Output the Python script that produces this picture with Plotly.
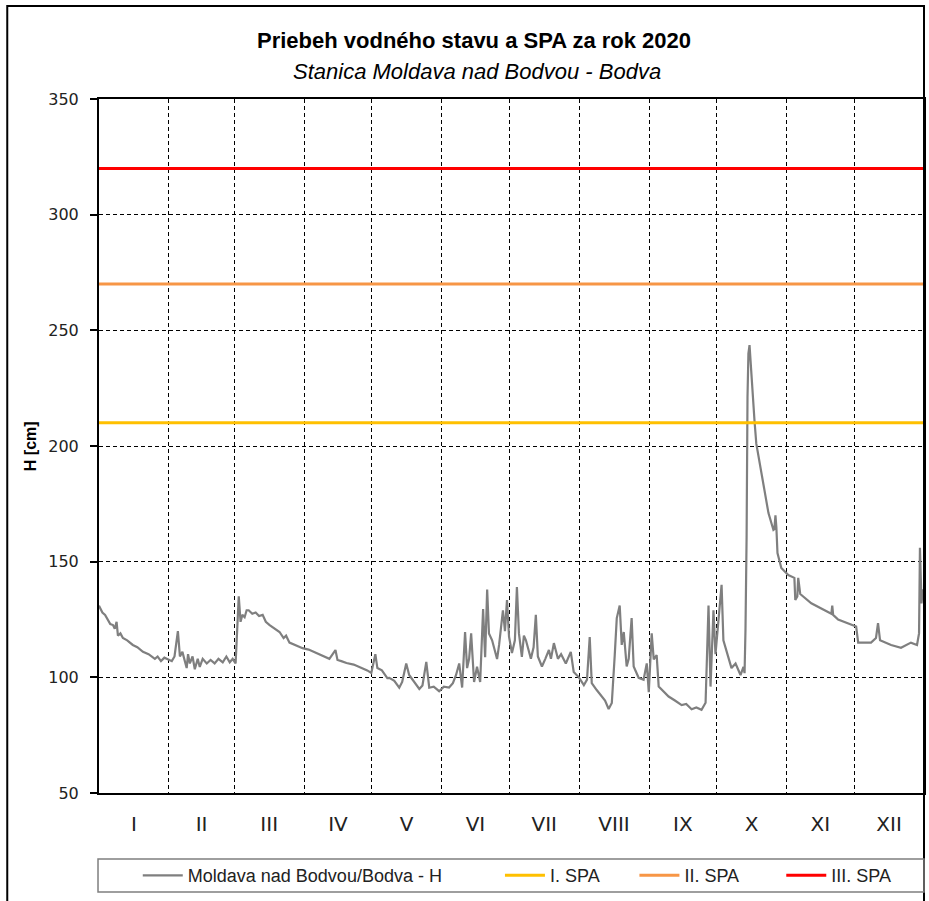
import pandas as pd
import plotly.graph_objects as go

# Water level series: day of year 2020 and level in cm (one line per month)
h_day = [0, 1.5, 2.7, 4, 5, 6.2, 7.0, 7.8, 8.4, 9.5, 10.6, 12.5, 15.0, 17, 19.5, 22, 24.8, 26, 27.5, 29, 30.1,
         32.3, 33.5, 35.0, 35.9, 37, 38.9, 39.5, 40.3, 41.5, 42.5, 43.8, 44.7, 46, 47.8, 49.5, 51.3, 53, 54.9, 56.5, 58.0, 59.3, 60.6,
         62.0, 62.8, 63.6, 64.6, 65.5, 66.4, 68, 69.5, 71, 72.6, 74, 75.7, 78, 80.1, 81.9, 83, 84.5, 87, 90.3,
         93, 96.5, 99, 102.2, 104.9, 105.8, 107.5, 109.8, 113, 116.8, 119, 120.8,
         122.6, 123.5, 125.5, 127.9, 128.8, 131, 133.2, 134.5, 136.3, 137.6, 140, 142.1, 143.5, 145.2, 146.5, 148.5, 150.9,
         153, 155.3, 157, 158.4, 159.8, 161.1, 162.4, 163.3, 164.2, 165.1, 166.4, 167.7, 169.1, 170.4, 171.3, 172.2, 173.0,
         174.4, 175.5, 176.6, 177.5, 178.4, 179.2, 180.1, 181.0, 181.9,
         183.2, 184.5, 185.4, 186.3, 187.6, 188.5, 189.4, 190.5, 191.6, 192.8, 193.8, 194.7, 196.5, 198, 199.6, 200.5, 201.8,
         203.6, 205, 207.1, 209.3, 210.6, 212.9,
         215.1, 216.5, 217.7, 218.6, 220.8, 223.0, 224.5, 226.1, 227.5, 228.8, 229.7, 231.0, 231.9, 232.8, 234.1, 235, 236.3,
         237.2, 239.4, 241.6, 243.0, 243.9,
         245.2, 246.1, 247.4, 248.3, 250.5, 252.7, 255.5, 258.5, 260.5, 262.9, 265, 267.3, 269.1, 270.4, 271.3, 272.6, 273.5,
         274.8, 276.2, 277.0, 279.3, 280.6, 282.4, 284.6, 285.9, 286.4, 286.8, 287.3, 287.7, 288.1, 288.6, 289.0, 289.9, 290.8,
         291.6, 293.4, 294.7, 297.0, 299.2, 299.6, 300.1, 300.5, 301.0, 302.7, 305.8,
         308.5, 308.9, 309.8, 310.2, 311.1, 316.0, 322.2, 324.9, 325.3, 325.7, 327.9, 334.6,
         335.9, 336.8, 339.9, 342.5, 344.7, 345.6, 346.5, 351.4, 355.8, 360.2, 362.9, 363.8, 364.2, 364.9, 365.5, 366.0]
h_cm = [131, 128, 127, 125, 123, 122.6, 121, 124, 118, 119, 117, 116, 114, 113, 111, 110, 108, 109, 107, 108.5, 108,
        107, 109, 120, 109, 111, 104, 110, 106, 109, 103.5, 108, 104.5, 108, 106, 107.5, 106, 108, 106.5, 109, 106.5, 108, 106,
        135, 124, 127, 126, 129, 129, 127.5, 128, 126.5, 127, 124, 122.6, 121, 119.6, 117, 118, 115, 114, 112.6,
        112, 110.5, 109.5, 108, 111.8, 107.5, 107, 106.2, 105.5, 104, 103, 101.9,
        110, 104, 103, 99.7, 99.8, 98.5, 95.5, 98, 106, 101, 98, 95, 96.5, 106.7, 95.5, 96, 94,
        96, 95.6, 97.5, 101, 106, 95.6, 119.6, 104, 108, 119, 98, 104.6, 98, 129.5, 108.7, 138, 119,
        116, 112, 107.9, 114, 121.7, 129, 120, 133.4, 117.6,
        110.5, 116, 139, 119, 108.8, 118, 116, 112, 108, 113, 127, 109, 104.7, 108, 111.8, 108, 114.8,
        108, 110, 106, 111, 102.3, 100,
        96.6, 99, 117.4, 97.5, 94.5, 91.6, 90, 86.3, 88.9, 109.6, 125.6, 131, 114, 119.6, 104.7, 108, 125.6,
        104.7, 99.8, 99, 106, 93.6,
        119, 107.8, 109.6, 96, 94, 91.7, 90, 88, 88.5, 86.2, 87, 86, 89, 131, 96, 129, 110,
        124.8, 140, 116, 108.8, 104, 106, 101, 104.5, 101.8, 120.5, 160.7, 221, 240, 243.6, 237, 227, 211,
        201, 191, 182, 171, 163.7, 164, 170, 165, 153.7, 147.3, 144.2,
        143, 133.4, 135, 143, 136, 132, 129, 127.5, 131, 127, 125, 122.6,
        122, 115, 115, 115, 117, 123.4, 116, 114, 112.8, 115, 114, 119, 156, 132, 138, 135]

# Flood warning levels (SPA)
spa_names = ["I. SPA", "II. SPA", "III. SPA"]
spa_levels = [210, 270, 320]
spa_colors = ["#FFC000", "#F79646", "#FF0000"]

month_labels = ["I", "II", "III", "IV", "V", "VI", "VII", "VIII", "IX", "X", "XI", "XII"]
y_ticks = [50, 100, 150, 200, 250, 300, 350]

year_start = pd.Timestamp("2020-01-01")
year_end = pd.Timestamp("2021-01-01")
h_time = year_start + pd.to_timedelta(h_day, unit="D")
month_starts = pd.date_range(year_start, periods=12, freq="MS")
month_mids = [m + (m + pd.offsets.MonthBegin(1) - m) / 2 for m in month_starts]

FONT = "Liberation Sans, Arial, sans-serif"

fig = go.Figure()
fig.add_trace(go.Scatter(
    x=h_time, y=h_cm, mode="lines", name="Moldava nad Bodvou/Bodva - H",
    line=dict(color="#7F7F7F", width=2.2), legend="legend"))
for i, (name, lvl, col) in enumerate(zip(spa_names, spa_levels, spa_colors)):
    fig.add_trace(go.Scatter(
        x=[year_start, year_end], y=[lvl, lvl], mode="lines", name=name,
        line=dict(color=col, width=3), legend=f"legend{i + 2}"))

grid = dict(gridcolor="black", gridwidth=1, griddash="4px,3px")

fig.update_layout(
    width=929, height=901,
    margin=dict(l=99, r=3, t=99, b=108),
    paper_bgcolor="white", plot_bgcolor="white",
    font=dict(family=FONT, color="black"),
    showlegend=True,
    xaxis=dict(
        type="date", range=[year_start, year_end],
        tickmode="array", tickvals=month_mids, ticktext=month_labels,
        ticks="", showgrid=False, zeroline=False,
        showline=True, linecolor="black", linewidth=2, mirror=True,
        tickfont=dict(family="DejaVu Sans", size=20, color="#222"),
        ticklabelstandoff=12,
        minor=dict(tickmode="array", tickvals=month_starts[1:], showgrid=True, ticks="", **grid),
    ),
    yaxis=dict(
        range=[50, 350], tickmode="array", tickvals=y_ticks,
        showgrid=True, zeroline=False, **grid,
        showline=True, linecolor="black", linewidth=2, mirror=True,
        ticks="outside", ticklen=7, tickcolor="black", tickwidth=1.5,
        tickfont=dict(family="DejaVu Sans", size=16, color="#222"),
        ticklabelstandoff=8,
    ),
)

legend_common = dict(orientation="h", yanchor="middle", y=-0.119, xanchor="left",
                     bgcolor="rgba(0,0,0,0)", borderwidth=0, itemwidth=40,
                     font=dict(family=FONT, size=18, color="#222"))
fig.update_layout(
    legend=dict(x=0.047, **legend_common),
    legend2=dict(x=0.486, **legend_common),
    legend3=dict(x=0.649, **legend_common),
    legend4=dict(x=0.827, **legend_common),
)

# Titles
fig.add_annotation(x=0.455, y=1.0836, xref="paper", yref="paper", showarrow=False,
                   xanchor="center", yanchor="middle",
                   text="<b>Priebeh vodného stavu a SPA za rok 2020</b>",
                   font=dict(family=FONT, size=22, color="black"))
fig.add_annotation(x=0.458, y=1.0403, xref="paper", yref="paper", showarrow=False,
                   xanchor="center", yanchor="middle",
                   text="<i>Stanica Moldava nad Bodvou - Bodva</i>",
                   font=dict(family=FONT, size=22, color="black"))
fig.add_annotation(x=-0.0834, y=0.5, xref="paper", yref="paper", showarrow=False,
                   xanchor="center", yanchor="middle",
                   text="<b>H [cm]</b>", textangle=-90,
                   font=dict(family=FONT, size=16, color="black"))

# Outer chart frame and legend box
fig.add_shape(type="rect", xref="paper", yref="paper",
              x0=-0.1112, x1=1.0, y0=-0.17, y1=1.134,
              line=dict(color="black", width=2), fillcolor="rgba(0,0,0,0)", layer="above")
fig.add_shape(type="rect", xref="paper", yref="paper",
              x0=-0.0012, x1=1.0, y0=-0.1427, y1=-0.0951,
              line=dict(color="#7F7F7F", width=1.5), fillcolor="rgba(0,0,0,0)")

fig.write_html("out.html")
